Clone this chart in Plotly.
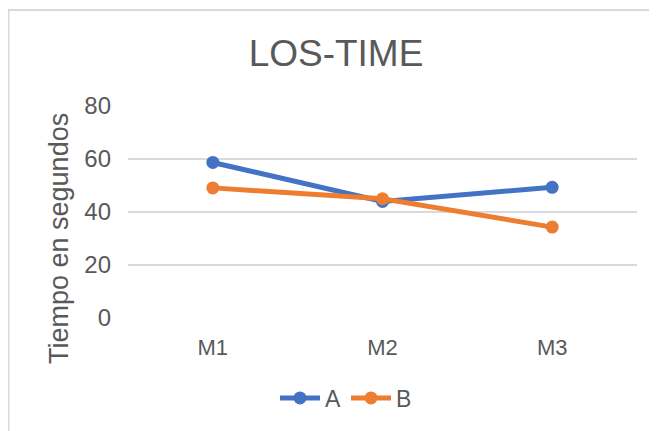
import plotly.graph_objects as go

categories = ["M1", "M2", "M3"]
series_a = [58.7, 44.0, 49.3]
series_b = [49.1, 45.0, 34.3]
y_ticks = [0, 20, 40, 60, 80]

# page body has an 8px margin; work in reference pixel coords and offset by it
OFF = 8
W, H = 657 - OFF, 431 - OFF
L, R, T = 128 - OFF, 20, 106 - OFF
pw, ph = 509, 212
B = H - T - ph

def px_x(x):
    return (x - OFF - L) / pw

def px_y(y):
    return (T + ph - (y - OFF)) / ph

font_color = "#595959"
ff = "Liberation Sans, Arial, sans-serif"

fig = go.Figure()
fig.add_trace(go.Scatter(x=categories, y=series_a, name="A", mode="lines+markers",
                         line=dict(color="#4472C4", width=5),
                         marker=dict(color="#4472C4", size=13)))
fig.add_trace(go.Scatter(x=categories, y=series_b, name="B", mode="lines+markers",
                         line=dict(color="#ED7D31", width=5),
                         marker=dict(color="#ED7D31", size=13)))

fig.update_layout(
    width=W, height=H,
    margin=dict(l=L, r=R, t=T, b=B),
    paper_bgcolor="white", plot_bgcolor="white",
    font=dict(family=ff, color=font_color, size=22),
    title=dict(text="LOS-TIME", x=(336 - OFF) / W, xanchor="center",
               y=1 - (53 - OFF) / H, yanchor="middle", yref="container",
               font=dict(size=37, color=font_color, family=ff)),
    showlegend=True,
    legend=dict(orientation="h", x=px_x(346), xanchor="center", y=px_y(398), yanchor="middle",
                font=dict(size=23, color=font_color), itemwidth=40, tracegroupgap=0),
    xaxis=dict(type="category", range=[-0.5, 2.5], showgrid=False, zeroline=False,
               showline=False, ticks="", tickfont=dict(size=22, color=font_color),
               ticklabelstandoff=14),
    yaxis=dict(range=[0, 80], tickvals=y_ticks, showgrid=True, gridcolor="#D9D9D9",
               gridwidth=1.5, zeroline=False, showline=False, ticks="",
               tickfont=dict(size=24, color=font_color), ticklabelstandoff=16),
    annotations=[dict(text="Tiempo en segundos", textangle=-90, xref="paper", yref="paper",
                      x=px_x(59), y=px_y(239), xanchor="center", yanchor="middle",
                      showarrow=False, font=dict(size=27, color=font_color, family=ff))],
    shapes=[dict(type="rect", xref="paper", yref="paper",
                 x0=px_x(8.5), x1=px_x(700), y0=px_y(480), y1=px_y(10),
                 line=dict(color="#D9D9D9", width=2), layer="below")],
)

fig.write_html("out.html")
